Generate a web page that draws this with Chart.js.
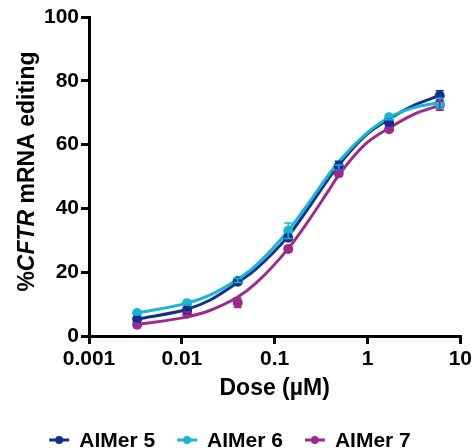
<!DOCTYPE html>
<html lang="en">
<head>
<meta charset="UTF-8">
<title>CFTR mRNA editing - dose response</title>
<script src="https://cdn.jsdelivr.net/npm/chart.js"></script>
<style>
    html, body { margin: 0; padding: 0; background: #fff; }
    #wrap { width: 475px; height: 448px; }
</style>
</head>
<body>
<div id="wrap"><canvas id="doseChart"></canvas></div>
<script>
// measured points (dose in uM)
const doses = [0.0033, 0.0114, 0.04, 0.14, 0.49, 1.71, 6.0];
const aimer5 = [5.3, 8.2, 17.0, 30.8, 53.3, 66.8, 75.3];
const aimer5Err = [0.6, 0.6, 0.6, 0.8, 1.5, 0.8, 1.6];
const aimer6 = [7.2, 10.3, 17.4, 33.0, 52.8, 68.6, 72.9];
const aimer6Err = [0.6, 0.6, 0.6, 2.4, 0.8, 0.8, 1.6];
const aimer7 = [3.5, 7.0, 10.4, 27.3, 51.0, 64.8, 72.3];
const aimer7Err = [0.5, 0.5, 1.5, 1.0, 1.0, 0.6, 1.5];

// fitted curves
const curveDoses = [0.0033, 0.0114, 0.02, 0.04, 0.062, 0.14, 0.23, 0.37, 0.49, 0.93, 1.71, 3.16, 6.0];
const aimer5Curve = [5.3, 8.4, 11.2, 16.8, 20.8, 31.3, 40.0, 48.8, 53.6, 62.6, 68.0, 72.3, 75.4];
const aimer6Curve = [7.2, 10.3, 12.8, 17.8, 22.0, 33.0, 41.5, 50.0, 54.6, 63.0, 68.5, 71.6, 73.2];
const aimer7Curve = [3.6, 6.0, 8.0, 12.2, 16.4, 27.4, 36.0, 45.0, 50.4, 59.9, 65.2, 69.5, 72.3];

const seriesNames = ['AIMer 5', 'AIMer 6', 'AIMer 7'];
const xTicks = [0.001, 0.01, 0.1, 1, 10];
const xTickLabels = ['0.001', '0.01', '0.1', '1', '10'];

const BLUE = '#10308e';
const CYAN = '#1bb5d2';
const PURPLE = '#9b2b8d';
const FONT = "'Liberation Sans', Arial, sans-serif";

const toXY = (xs, ys) => xs.map((x, i) => ({ x: x, y: ys[i] }));

function pointSet(name, ys, errs, color) {
    return {
        label: name,
        data: toXY(doses, ys),
        errorBars: errs,
        showLine: false,
        pointRadius: 5,
        pointHoverRadius: 5,
        pointBackgroundColor: color,
        pointBorderColor: color,
        pointBorderWidth: 0,
        borderColor: color,
        backgroundColor: color
    };
}

function curveSet(ys, color) {
    return {
        label: '',
        data: toXY(curveDoses, ys),
        isCurve: true,
        borderColor: color,
        borderWidth: 3,
        pointRadius: 0,
        cubicInterpolationMode: 'monotone',
        fill: false
    };
}

// error bars with caps, same colour as the series
const errorBarPlugin = {
    id: 'errorBars',
    afterDatasetsDraw(chart) {
        const ctx = chart.ctx;
        const xs = chart.scales.x, ys = chart.scales.y;
        chart.data.datasets.forEach(ds => {
            if (!ds.errorBars) return;
            ctx.save();
            ctx.strokeStyle = ds.borderColor;
            ctx.lineWidth = 1.5;
            ds.data.forEach((p, i) => {
                const e = ds.errorBars[i];
                const px = xs.getPixelForValue(p.x);
                const top = ys.getPixelForValue(p.y + e);
                const bot = ys.getPixelForValue(p.y - e);
                ctx.beginPath();
                ctx.moveTo(px, top); ctx.lineTo(px, bot);
                ctx.moveTo(px - 4, top); ctx.lineTo(px + 4, top);
                ctx.moveTo(px - 4, bot); ctx.lineTo(px + 4, bot);
                ctx.stroke();
            });
            ctx.restore();
        });
    }
};

// y title with italic gene name, and the bottom legend
const labelsPlugin = {
    id: 'labels',
    afterDraw(chart) {
        const ctx = chart.ctx;
        const area = chart.chartArea;
        ctx.save();
        // y axis title
        const parts = [
            { t: '%', f: 'bold 23px ' + FONT },
            { t: 'CFTR', f: 'italic bold 23px ' + FONT },
            { t: ' mRNA editing', f: 'bold 23px ' + FONT }
        ];
        let total = 0;
        parts.forEach(p => { ctx.font = p.f; p.w = ctx.measureText(p.t).width; total += p.w; });
        ctx.translate(28, (area.top + area.bottom) / 2 - 5);
        ctx.rotate(-Math.PI / 2);
        ctx.fillStyle = '#000';
        ctx.textBaseline = 'middle';
        ctx.textAlign = 'left';
        let cx = -total / 2;
        parts.forEach(p => { ctx.font = p.f; ctx.fillText(p.t, cx, 0); cx += p.w; });
        ctx.restore();

        // legend
        ctx.save();
        ctx.font = 'bold 21px ' + FONT;
        ctx.textBaseline = 'middle';
        const items = chart.data.datasets.filter(d => !d.isCurve);
        const lineLen = 20, gapText = 10, gapItem = 22;
        const widths = items.map(d => lineLen + gapText + ctx.measureText(d.label).width);
        const full = widths.reduce((a, b) => a + b, 0) + gapItem * (items.length - 1);
        let x = 230 - full / 2;
        const y = 440;
        items.forEach((d, i) => {
            ctx.strokeStyle = d.borderColor;
            ctx.fillStyle = d.borderColor;
            ctx.lineWidth = 3;
            ctx.beginPath();
            ctx.moveTo(x, y); ctx.lineTo(x + lineLen, y);
            ctx.stroke();
            ctx.beginPath();
            ctx.arc(x + lineLen / 2, y, 4, 0, Math.PI * 2);
            ctx.fill();
            ctx.fillStyle = '#000';
            ctx.fillText(d.label, x + lineLen + gapText, y + 1);
            x += widths[i] + gapItem;
        });
        ctx.restore();
    }
};

const ctx = document.getElementById('doseChart').getContext('2d');
new Chart(ctx, {
    type: 'line',
    data: {
        datasets: [
            pointSet(seriesNames[0], aimer5, aimer5Err, BLUE),
            pointSet(seriesNames[1], aimer6, aimer6Err, CYAN),
            pointSet(seriesNames[2], aimer7, aimer7Err, PURPLE),
            curveSet(aimer6Curve, CYAN),
            curveSet(aimer5Curve, BLUE),
            curveSet(aimer7Curve, PURPLE)
        ]
    },
    options: {
        responsive: true,
        maintainAspectRatio: false,
        animation: false,
        layout: { padding: { top: 17, right: 11, bottom: 0, left: 0 } },
        plugins: {
            legend: { display: false },
            tooltip: { enabled: false }
        },
        scales: {
            x: {
                type: 'logarithmic',
                min: 0.001,
                max: 10,
                afterBuildTicks: (scale) => { scale.ticks = xTicks.map(v => ({ value: v })); },
                afterFit: (scale) => { scale.height = 112; },
                ticks: {
                    autoSkip: false,
                    maxRotation: 0,
                    padding: 3,
                    color: '#000',
                    font: { family: FONT, size: 21, weight: 'bold' },
                    callback: (v) => xTickLabels[xTicks.indexOf(v)]
                },
                grid: { drawOnChartArea: false, drawTicks: true, tickLength: 8, lineWidth: 3, color: '#000' },
                border: { display: true, width: 3, color: '#000' },
                title: {
                    display: true,
                    text: 'Dose (µM)',
                    color: '#000',
                    font: { family: FONT, size: 23, weight: 'bold' },
                    padding: { top: 0, bottom: 46 }
                }
            },
            y: {
                min: 0,
                max: 100,
                afterFit: (scale) => { scale.width = 89; },
                ticks: {
                    stepSize: 20,
                    padding: 2,
                    color: '#000',
                    font: { family: FONT, size: 21, weight: 'bold' }
                },
                grid: { drawOnChartArea: false, drawTicks: true, tickLength: 8, lineWidth: 3, color: '#000' },
                border: { display: true, width: 3, color: '#000' }
            }
        }
    },
    plugins: [errorBarPlugin, labelsPlugin]
});
</script>
</body>
</html>
